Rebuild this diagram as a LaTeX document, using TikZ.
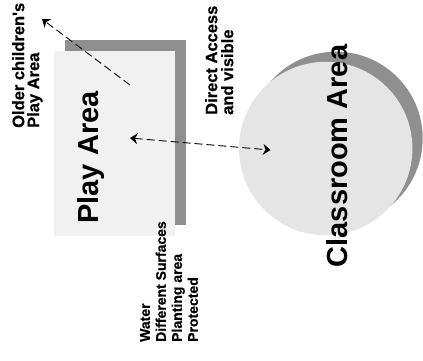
\documentclass[tikz,border=0pt]{standalone}
\usepackage{fontspec}
\setmainfont{Liberation Sans}
\newfontfamily\heavyfont{Liberation Sans Bold}[FakeBold=0.6]
\usetikzlibrary{arrows.meta}
\definecolor{shadowgray}{HTML}{8F8F8F}
\definecolor{playfill}{HTML}{F1F1F1}
\definecolor{roomfill}{HTML}{E5E5E5}
\tikzset{
  shadowshape/.style={fill=shadowgray, draw=none},
  bigtitle/.style={rotate=90, inner sep=0pt, anchor=base,
    font=\fontsize{29}{30}\selectfont\bfseries},
  note/.style={rotate=90, inner sep=0pt, anchor=north west, align=left},
  link/.style={line width=0.9pt, dash pattern=on 8pt off 4pt, -{Stealth[length=7.5pt,width=11pt,inset=2.5pt]}},
  twolink/.style={line width=0.9pt, dash pattern=on 8pt off 4pt,
    {Stealth[length=7.5pt,width=11pt,inset=2.5pt]}-{Stealth[length=7.5pt,width=11pt,inset=2.5pt]}}
}
\begin{document}
\begin{tikzpicture}[x=1pt, y=-1pt]
  \useasboundingbox (0,0) rectangle (423,360);

  % play area with its offset shadow
  \fill[shadowshape] (65,40) rectangle (186,225);
  \fill[playfill] (54,51) rectangle (175,236);
  \node[bigtitle] (play) at (98,157.5) {Play Area};

  % classroom area with its offset shadow
  \fill[shadowshape] (336,138.4) circle[radius=86.7pt];
  \fill[roomfill] (325.7,148.5) circle[radius=86.7pt];
  \node[bigtitle] (room) at (347,156) {Classroom Area};

  % side notes
  \node[note, font=\fontsize{16.5}{15}\selectfont\heavyfont] (older) at (12,128)
    {Older children's\\Play Area};
  \node[note, font=\fontsize{16.5}{16}\selectfont\heavyfont] (access) at (205,115)
    {Direct Access\\and visible};
  \node[note, font=\fontsize{14}{16}\selectfont\heavyfont] (features) at (140,342)
    {Water\\Different Surfaces\\Planting area\\Protected};

  % connections
  \coordinate (playspot) at (130,85);
  \coordinate (olderspot) at (42,19);
  \coordinate (playdoor) at (130,138);
  \coordinate (roomdoor) at (270.5,150);
  \draw[link] (playspot) -- (olderspot);
  \draw[twolink] (playdoor) -- (roomdoor);
\end{tikzpicture}
\end{document}
